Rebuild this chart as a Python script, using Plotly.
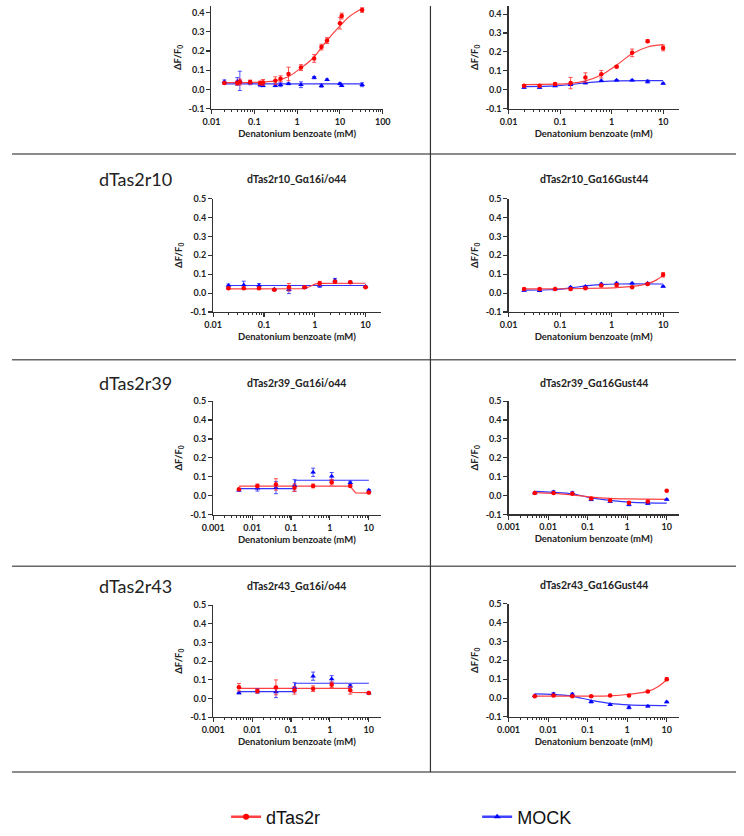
import plotly.graph_objects as go

W, H = 744, 836

RED = "#FF0000"
RED_FIT = "#FF4040"
BLUE = "#0000FF"
BLUE_FIT = "#3333FF"
AX = "#333333"
FONT = "Lato"

# ---------------- data ----------------
# concentrations (mM)
conc_p1 = [0.02, 0.04, 0.046, 0.08, 0.137, 0.16, 0.31, 0.41, 0.63, 1.23, 2.5, 3.7, 5, 10, 11, 33]
conc_2fold = [0.02, 0.04, 0.08, 0.16, 0.31, 0.63, 1.25, 2.5, 5, 10]
conc_3fold = [0.0046, 0.0137, 0.041, 0.123, 0.37, 1.11, 3.33, 10]

# panel 1 (top-left)
p1_red = [0.034, 0.034, 0.039, 0.039, 0.034, 0.037, 0.046, 0.056, 0.081, 0.114, 0.161, 0.22, 0.254, 0.344, 0.381, 0.412]
p1_red_err = [0.005, 0.01, 0.015, 0.01, 0.01, 0.015, 0.02, 0.015, 0.035, 0.015, 0.02, 0.015, 0.015, 0.03, 0.015, 0.012]
p1_mock = [0.04, 0.042, 0.045, 0.035, 0.025, 0.02, 0.02, 0.025, 0.03, 0.025, 0.062, 0.02, 0.051, 0.03, 0.02, 0.025]
p1_mock_err = [0.01, 0.02, 0.05, 0.01, 0.01, 0.005, 0.005, 0.01, 0.005, 0.015, 0.006, 0.008, 0.004, 0.005, 0.004, 0.01]
p1_fit_red_x = [0.02, 0.1, 0.3, 0.6, 1.2, 2.4, 4.8, 10, 17, 33]
p1_fit_red_y = [0.036, 0.037, 0.045, 0.065, 0.11, 0.165, 0.25, 0.33, 0.38, 0.42]
p1_fit_mock_x = [0.02, 33]
p1_fit_mock_y = [0.03, 0.03]

# panel 2 (top-right)
p2_red = [0.021, 0.021, 0.03, 0.035, 0.064, 0.082, 0.122, 0.195, 0.257, 0.221]
p2_red_err = [0.005, 0.005, 0.006, 0.03, 0.025, 0.02, 0.005, 0.02, 0.008, 0.015]
p2_mock = [0.012, 0.011, 0.02, 0.026, 0.035, 0.047, 0.05, 0.05, 0.043, 0.033]
p2_mock_err = [0.004, 0.004, 0.003, 0.004, 0.004, 0.003, 0.003, 0.003, 0.008, 0.003]
p2_fit_red_x = [0.02, 0.08, 0.16, 0.31, 0.63, 1.25, 2.5, 5, 10]
p2_fit_red_y = [0.027, 0.029, 0.033, 0.047, 0.078, 0.13, 0.19, 0.226, 0.238]
p2_fit_mock_x = [0.02, 0.08, 0.16, 0.31, 0.63, 1.25, 10]
p2_fit_mock_y = [0.016, 0.02, 0.027, 0.036, 0.043, 0.047, 0.048]

# panel 3: dTas2r10_Gα16i/o44
p3_red = [0.025, 0.025, 0.025, 0.017, 0.031, 0.031, 0.052, 0.06, 0.057, 0.031]
p3_red_err = [0.005, 0.006, 0.005, 0.004, 0.02, 0.004, 0.01, 0.008, 0.006, 0.003]
p3_mock = [0.04, 0.043, 0.04, 0.02, 0.017, 0.03, 0.04, 0.068, 0.057, 0.035]
p3_mock_err = [0.008, 0.02, 0.01, 0.003, 0.02, 0.004, 0.01, 0.01, 0.006, 0.003]
p3_fit_red_x = [0.02, 0.63, 0.8, 1.0, 1.25, 10]
p3_fit_red_y = [0.022, 0.024, 0.035, 0.047, 0.051, 0.052]
p3_fit_mock_x = [0.02, 10]
p3_fit_mock_y = [0.04, 0.04]

# panel 4: dTas2r10_Gα16Gust44
p4_red = [0.021, 0.021, 0.021, 0.022, 0.026, 0.04, 0.043, 0.031, 0.048, 0.097]
p4_red_err = [0.004, 0.004, 0.004, 0.006, 0.004, 0.005, 0.008, 0.003, 0.005, 0.012]
p4_mock = [0.014, 0.012, 0.021, 0.031, 0.035, 0.048, 0.052, 0.052, 0.052, 0.035]
p4_mock_err = [0.003, 0.004, 0.003, 0.004, 0.003, 0.004, 0.005, 0.003, 0.003, 0.003]
p4_fit_red_x = [0.02, 0.16, 0.63, 1.25, 2.5, 5, 7.5, 10]
p4_fit_red_y = [0.022, 0.023, 0.026, 0.029, 0.035, 0.05, 0.07, 0.095]
p4_fit_mock_x = [0.02, 0.08, 0.16, 0.31, 0.63, 1.25, 10]
p4_fit_mock_y = [0.016, 0.019, 0.027, 0.038, 0.045, 0.048, 0.048]

# panel 5: dTas2r39_Gα16i/o44
p5_red = [0.034, 0.052, 0.06, 0.043, 0.052, 0.072, 0.052, 0.017]
p5_red_err = [0.004, 0.01, 0.03, 0.02, 0.01, 0.015, 0.005, 0.004]
p5_mock = [0.029, 0.04, 0.043, 0.055, 0.124, 0.103, 0.069, 0.029]
p5_mock_err = [0.004, 0.015, 0.032, 0.03, 0.022, 0.02, 0.008, 0.004]
p5_fit_red_x = [0.0046, 3.3, 3.8, 4.6, 10]
p5_fit_red_y = [0.051, 0.051, 0.035, 0.015, 0.014]
p5_fit_mock_x = [0.0046, 0.12, 0.13, 10]
p5_fit_mock_y = [0.038, 0.038, 0.082, 0.082]

# panel 6: dTas2r39_Gα16Gust44
p6_red = [0.014, 0.014, 0.009, -0.016, -0.026, -0.038, -0.031, 0.026]
p6_red_err = [0.003, 0.003, 0.003, 0.004, 0.003, 0.004, 0.003, 0.002]
p6_mock = [0.014, 0.019, 0.014, -0.021, -0.031, -0.048, -0.042, -0.021]
p6_mock_err = [0.004, 0.006, 0.006, 0.006, 0.005, 0.006, 0.004, 0.003]
p6_fit_red_x = [0.0046, 0.0137, 0.041, 0.123, 0.37, 1.11, 3.33, 10]
p6_fit_red_y = [0.016, 0.012, 0.004, -0.008, -0.015, -0.018, -0.019, -0.02]
p6_fit_mock_x = [0.0046, 0.0137, 0.041, 0.123, 0.37, 1.11, 3.33, 10]
p6_fit_mock_y = [0.022, 0.017, 0.009, -0.012, -0.026, -0.035, -0.039, -0.04]

# panel 7: dTas2r43_Gα16i/o44
p7_red = [0.061, 0.04, 0.06, 0.044, 0.053, 0.074, 0.044, 0.03]
p7_red_err = [0.02, 0.01, 0.04, 0.02, 0.015, 0.015, 0.02, 0.004]
p7_mock = [0.03, 0.04, 0.035, 0.06, 0.12, 0.105, 0.067, 0.03]
p7_mock_err = [0.004, 0.012, 0.03, 0.025, 0.022, 0.018, 0.008, 0.004]
p7_fit_red_x = [0.0046, 3.2, 3.7, 10]
p7_fit_red_y = [0.055, 0.055, 0.033, 0.032]
p7_fit_mock_x = [0.0046, 0.12, 0.13, 10]
p7_fit_mock_y = [0.037, 0.037, 0.082, 0.082]

# panel 8: dTas2r43_Gα16Gust44
p8_red = [0.01, 0.014, 0.009, 0.009, 0.014, 0.014, 0.035, 0.1]
p8_red_err = [0.003, 0.003, 0.004, 0.003, 0.003, 0.003, 0.005, 0.008]
p8_mock = [0.012, 0.022, 0.02, -0.02, -0.035, -0.05, -0.043, -0.021]
p8_mock_err = [0.003, 0.006, 0.006, 0.006, 0.004, 0.007, 0.004, 0.004]
p8_fit_red_x = [0.0046, 0.041, 0.123, 0.37, 1.11, 3.33, 6, 10]
p8_fit_red_y = [0.01, 0.01, 0.01, 0.012, 0.02, 0.035, 0.06, 0.097]
p8_fit_mock_x = [0.0046, 0.0137, 0.041, 0.123, 0.37, 1.11, 3.33, 10]
p8_fit_mock_y = [0.022, 0.019, 0.009, -0.012, -0.028, -0.036, -0.039, -0.04]

panel_titles = ["", "", "dTas2r10_Gα16i/o44", "dTas2r10_Gα16Gust44",
                "dTas2r39_Gα16i/o44", "dTas2r39_Gα16Gust44",
                "dTas2r43_Gα16i/o44", "dTas2r43_Gα16Gust44"]
row_labels = ["dTas2r10", "dTas2r39", "dTas2r43"]
series_names = ["dTas2r", "MOCK"]
x_title = "Denatonium benzoate (mM)"
y_title = "ΔF/F<sub>0</sub>"
x_ticks_2 = [0.01, 0.1, 1, 10, 100]
x_ticks_3 = [0.001, 0.01, 0.1, 1, 10]
y_ticks = [-0.1, 0.0, 0.1, 0.2, 0.3, 0.4, 0.5]

# ---------------- layout geometry (pixels of the 744x836 reference) ----------------
# (x0, x1, log-range, y_top, y_bottom, y-range, title_y)
geom = [
    (205.0, 381.0, [-2, 2.0], 0.0, 105.0, [-0.1, 0.433], None),
    (510.3, 685.0, [-2, 1.3], 0.0, 104.7, [-0.1, 0.443], None),
    (206.7, 379.0, [-2, 1.3], 196.7, 312.3, [-0.1, 0.5], 177),
    (510.3, 685.0, [-2, 1.3], 196.7, 312.3, [-0.1, 0.5], 177),
    (206.7, 378.7, [-3, 1.3], 403.3, 519.3, [-0.1, 0.5], 385),
    (510.3, 685.0, [-3, 1.3], 403.3, 519.0, [-0.1, 0.5], 385),
    (206.7, 378.7, [-3, 1.3], 611.7, 726.0, [-0.1, 0.5], 592),
    (510.3, 685.0, [-3, 1.3], 610.0, 725.7, [-0.1, 0.5], 591),
]

panels = [
    (conc_p1, p1_red, p1_red_err, p1_mock, p1_mock_err, p1_fit_red_x, p1_fit_red_y, p1_fit_mock_x, p1_fit_mock_y, x_ticks_2, "spline"),
    (conc_2fold, p2_red, p2_red_err, p2_mock, p2_mock_err, p2_fit_red_x, p2_fit_red_y, p2_fit_mock_x, p2_fit_mock_y, x_ticks_2, "spline"),
    (conc_2fold, p3_red, p3_red_err, p3_mock, p3_mock_err, p3_fit_red_x, p3_fit_red_y, p3_fit_mock_x, p3_fit_mock_y, x_ticks_2, "linear"),
    (conc_2fold, p4_red, p4_red_err, p4_mock, p4_mock_err, p4_fit_red_x, p4_fit_red_y, p4_fit_mock_x, p4_fit_mock_y, x_ticks_2, "spline"),
    (conc_3fold, p5_red, p5_red_err, p5_mock, p5_mock_err, p5_fit_red_x, p5_fit_red_y, p5_fit_mock_x, p5_fit_mock_y, x_ticks_3, "linear"),
    (conc_3fold, p6_red, p6_red_err, p6_mock, p6_mock_err, p6_fit_red_x, p6_fit_red_y, p6_fit_mock_x, p6_fit_mock_y, x_ticks_3, "spline"),
    (conc_3fold, p7_red, p7_red_err, p7_mock, p7_mock_err, p7_fit_red_x, p7_fit_red_y, p7_fit_mock_x, p7_fit_mock_y, x_ticks_3, "linear"),
    (conc_3fold, p8_red, p8_red_err, p8_mock, p8_mock_err, p8_fit_red_x, p8_fit_red_y, p8_fit_mock_x, p8_fit_mock_y, x_ticks_3, "spline"),
]


def px_x(v):
    return v / W


def px_y(v):
    return 1 - v / H


fig = go.Figure()
layout = {}
annotations = []

for i, (p, g) in enumerate(zip(panels, geom)):
    n = i + 1
    sfx = "" if n == 1 else str(n)
    xa, ya = "x" + sfx, "y" + sfx
    (cx, red, red_err, mock, mock_err, frx, fry, fmx, fmy, xt, shape) = p
    x0, x1, xr, yt, yb, yr, ty = g

    fig.add_trace(go.Scatter(x=fmx, y=fmy, mode="lines", xaxis=xa, yaxis=ya,
                             line=dict(color=BLUE_FIT, width=1.2, shape=shape),
                             showlegend=False, hoverinfo="skip"))
    fig.add_trace(go.Scatter(x=frx, y=fry, mode="lines", xaxis=xa, yaxis=ya,
                             line=dict(color=RED_FIT, width=1.2, shape=shape),
                             showlegend=False, hoverinfo="skip"))
    fig.add_trace(go.Scatter(x=cx, y=mock, mode="markers", xaxis=xa, yaxis=ya,
                             marker=dict(symbol="triangle-up", size=5, color=BLUE),
                             error_y=dict(type="data", array=mock_err, color="rgba(40,40,255,0.8)",
                                          thickness=1, width=2),
                             showlegend=False, name=series_names[1]))
    fig.add_trace(go.Scatter(x=cx, y=red, mode="markers", xaxis=xa, yaxis=ya,
                             marker=dict(symbol="circle", size=4.5, color=RED),
                             error_y=dict(type="data", array=red_err, color="rgba(255,40,40,0.8)",
                                          thickness=1, width=2),
                             showlegend=False, name=series_names[0]))

    minor_vals = [m * 10 ** e for e in range(-4, 3) for m in range(2, 10)]
    layout["xaxis" + sfx] = dict(
        type="log", domain=[px_x(x0), px_x(x1)], range=xr, anchor=ya,
        showline=True, linecolor=AX, linewidth=1.2, showgrid=False, zeroline=False,
        ticks="outside", ticklen=4, tickwidth=1.1, tickcolor=AX,
        tickmode="array", tickvals=xt, ticktext=[("%g" % v) for v in xt],
        tickfont=dict(family=FONT, size=9, color="#222", weight="bold"),
        minor=dict(ticks="outside", ticklen=2, tickwidth=1, tickcolor=AX,
                   tickmode="array", tickvals=minor_vals, showgrid=False),
        title=dict(text=x_title, standoff=4,
                   font=dict(family=FONT, size=9.5, color="#222", weight="bold")),
    )
    layout["yaxis" + sfx] = dict(
        domain=[px_y(yb), px_y(yt)], range=yr, anchor=xa,
        showline=True, linecolor=AX, linewidth=1.2, showgrid=False, zeroline=False,
        ticks="outside", ticklen=4, tickwidth=1.1, tickcolor=AX,
        tickmode="array", tickvals=y_ticks, ticktext=["%.1f" % v for v in y_ticks],
        tickfont=dict(family=FONT, size=9, color="#222", weight="bold"),
        title=dict(text=y_title, standoff=5,
                   font=dict(family=FONT, size=9.5, color="#222", weight="bold")),
    )
    if ty is not None:
        annotations.append(dict(text=panel_titles[i], x=px_x((x0 + x1) / 2), y=px_y(ty),
                                xref="paper", yref="paper", showarrow=False,
                                xanchor="center", yanchor="middle",
                                font=dict(family=FONT, size=10.5, color="#222", weight="bold")))

row_label_pos = [(127, 177), (127, 385), (127, 592)]
for lab, (lx, ly) in zip(row_labels, row_label_pos):
    annotations.append(dict(text=lab, x=px_x(lx), y=px_y(ly), xref="paper", yref="paper",
                            showarrow=False, xanchor="center", yanchor="middle",
                            font=dict(family=FONT, size=18, color="#222")))

shapes = []
for hy in [151, 361, 572, 782]:
    shapes.append(dict(type="line", xref="paper", yref="paper", x0=0, x1=1,
                       y0=px_y(hy), y1=px_y(hy), line=dict(color="#666666", width=1.5)))
shapes.append(dict(type="line", xref="paper", yref="paper", x0=px_x(430), x1=px_x(430),
                   y0=px_y(0), y1=px_y(782), line=dict(color="#333333", width=1.2)))

# legend-only entries
fig.add_trace(go.Scatter(x=[None], y=[None], mode="lines+markers", name=series_names[0],
                         line=dict(color="#FF4040", width=2.5),
                         marker=dict(symbol="circle", size=6, color=RED), legend="legend"))
fig.add_trace(go.Scatter(x=[None], y=[None], mode="lines+markers", name=series_names[1],
                         line=dict(color="#4040FF", width=2.5),
                         marker=dict(symbol="triangle-up", size=6, color=BLUE), legend="legend2"))

leg_common = dict(yanchor="middle", xanchor="left", bgcolor="rgba(0,0,0,0)",
                  font=dict(family="Liberation Sans", size=18, color="#111"),
                  itemwidth=30, borderwidth=0)

fig.update_layout(
    autosize=True, margin=dict(l=0, r=0, t=0, b=0),
    paper_bgcolor="white", plot_bgcolor="white",
    annotations=annotations, shapes=shapes,
    legend=dict(x=px_x(220), y=px_y(828), **leg_common),
    legend2=dict(x=px_x(478), y=px_y(828), **leg_common),
    **layout,
)

fig.write_html(
    "out.html",
    config={"staticPlot": True, "displayModeBar": False, "responsive": True},
    default_width="100vw", default_height="100vh",
    post_script=("document.documentElement.style.margin='0';"
                 "document.body.style.margin='0';document.body.style.overflow='hidden';"
                 "Plotly.Plots.resize(document.getElementById('{plot_id}'));"),
)
